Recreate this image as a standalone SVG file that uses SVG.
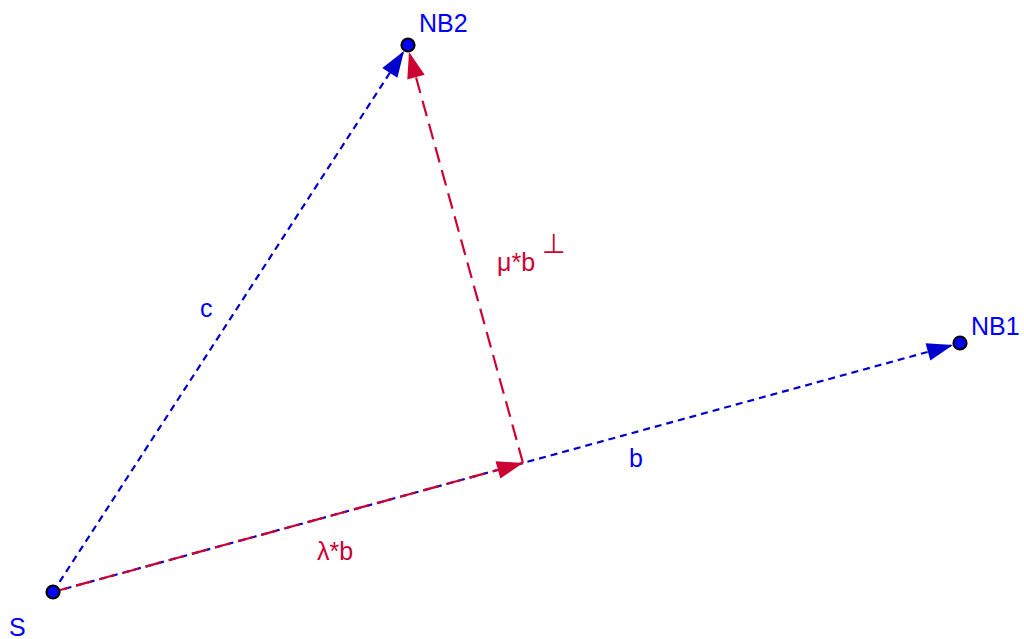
<svg xmlns="http://www.w3.org/2000/svg" width="1024" height="639" viewBox="0 0 1024 639">
<style>
.blue{stroke:#0000CC;stroke-width:2.2;stroke-dasharray:7 5;fill:none}
.red{stroke:#CC0033;stroke-width:2.2;stroke-dasharray:16 8;fill:none}
.pt{fill:#0000FF;stroke:#000;stroke-width:2.2}
.lb{font-family:"Liberation Sans",Arial,sans-serif;font-size:25px;fill:#0000FF}
.lr{font-family:"Liberation Sans",Arial,sans-serif;font-size:25px;fill:#CC0033}
</style>
<defs>
<marker id="ab" markerUnits="userSpaceOnUse" markerWidth="32" markerHeight="24" viewBox="-28 -12 30 24" refX="0" refY="0" orient="auto">
<path d="M0,0 L-26,-9 L-26,9 Z" fill="#0000CC"/>
</marker>
<marker id="ar" markerUnits="userSpaceOnUse" markerWidth="32" markerHeight="24" viewBox="-28 -12 30 24" refX="0" refY="0" orient="auto">
<path d="M0,0 L-26,-9 L-26,9 Z" fill="#CC0033"/>
</marker>
</defs>
<g id="connectors">
<line id="c" class="blue" x1="53" y1="592" x2="404" y2="51" marker-end="url(#ab)"/>
<line id="b" class="blue" x1="53" y1="592" x2="953" y2="345" marker-end="url(#ab)"/>
<line id="lambda-b" class="red" x1="53" y1="592" x2="523" y2="463" marker-end="url(#ar)"/>
<line id="mu-bperp" class="red" x1="523" y1="463" x2="409" y2="52" marker-end="url(#ar)"/>
</g>
<g id="S"><circle class="pt" cx="53" cy="592" r="6.5"/><text class="lb" x="9" y="636">S</text></g>
<g id="NB2"><circle class="pt" cx="408" cy="45" r="6.5"/><text class="lb" x="419" y="32">NB2</text></g>
<g id="NB1"><circle class="pt" cx="960" cy="343" r="6.5"/><text class="lb" x="971" y="335">NB1</text></g>
<g id="labels">
<text class="lb" x="200" y="317">c</text>
<text class="lb" x="629" y="467">b</text>
<text class="lr" x="317" y="560">λ*b</text>
<text class="lr" x="497" y="271">μ*b</text>
<text class="lr" x="542" y="253" style="font-size:27px">⊥</text>
</g>
</svg>
